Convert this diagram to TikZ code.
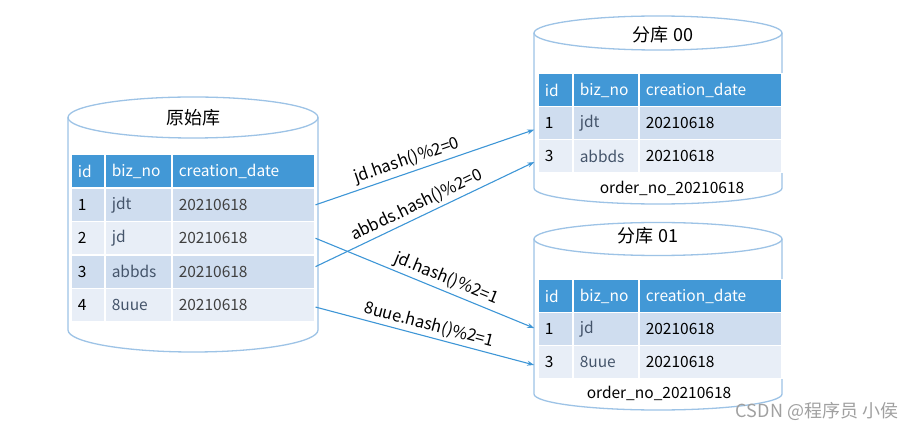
\documentclass[tikz,border=0pt]{standalone}
\usepackage{fontspec}
\setmainfont{Noto Sans CJK SC}
\usetikzlibrary{arrows.meta}
\definecolor{hdr}{RGB}{66,152,214}
\definecolor{rowA}{RGB}{207,221,239}
\definecolor{rowB}{RGB}{232,238,247}
\definecolor{cylc}{RGB}{157,195,230}
\definecolor{arr}{RGB}{62,150,214}
\definecolor{biz}{RGB}{68,84,106}
\definecolor{dat}{RGB}{64,64,64}
\definecolor{wmc}{RGB}{160,160,160}
\begin{document}
\begin{tikzpicture}[x=1pt,y=-1pt,
  cylline/.style={draw=cylc, line width=1.3pt, fill=white},
  tcell/.style={rectangle, draw=white, line width=1.5pt, anchor=north west, inner xsep=7pt, inner ysep=0pt, align=left, font=\fontsize{15.5}{18}\selectfont},
  hcell/.style={tcell, fill=hdr, text=white},
  ca/.style={tcell, text width=20pt, text=black},
  cb/.style={tcell, text width=53pt, text=biz},
  cc/.style={tcell, text width=129pt, text=dat},
  ra/.style={tcell, text width=21pt, text=black},
  rb/.style={tcell, text width=52pt, text=biz},
  rc/.style={tcell, text width=129pt, text=black},
  lh/.style={minimum height=33.4pt},
  rh/.style={minimum height=33pt},
  title/.style={font=\fontsize{18}{21}\selectfont, text=black},
  small/.style={font=\fontsize{15.5}{18}\selectfont, text=black},
  conn/.style={draw=arr, line width=1.1pt, -{Stealth[length=7pt,width=5pt]}, shorten >=3pt},
  lbl/.style={sloped, above, font=\fontsize{16.5}{19}\selectfont, inner sep=3pt, text=black}
]
\useasboundingbox (0,0) rectangle (922,430);

% left cylinder
\draw[cylline] (68,117.5) -- (68,330) arc[start angle=180,end angle=360,x radius=125pt,y radius=22pt] -- (318,117.5);
\draw[cylline] (193,117.5) ellipse [x radius=125pt, y radius=20.5pt];
\node[title] (t0) at (193,118) {原始库};

% top right cylinder
\draw[cylline] (534,33) -- (534,188) arc[start angle=180,end angle=360,x radius=124pt,y radius=16pt] -- (782,33);
\draw[cylline] (658,33) ellipse [x radius=124pt, y radius=17pt];
\node[title] (t1) at (663,35) {分库 00};
\node[small] (o1) at (672,188) {order\_no\_20210618};

% bottom right cylinder
\draw[cylline] (534,239) -- (534,394) arc[start angle=180,end angle=360,x radius=124pt,y radius=16pt] -- (782,239);
\draw[cylline] (658,239) ellipse [x radius=124pt, y radius=16.5pt];
\node[title] (t2) at (648,236) {分库 01};
\node[small] (o2) at (659,393) {order\_no\_20210618};

% left table
\node[hcell, lh, text width=20pt] (L0a) at (70,154) {id};
\node[hcell, lh, text width=53pt] (L0b) at (104,154) {biz\_no};
\node[hcell, lh, text width=129pt] (L0c) at (171,154) {creation\_date};
\node[ca, lh, fill=rowA] (L1a) at (70,187.4) {1};
\node[cb, lh, fill=rowA] (L1b) at (104,187.4) {jdt};
\node[cc, lh, fill=rowA] (L1c) at (171,187.4) {20210618};
\node[ca, lh, fill=rowB] (L2a) at (70,220.8) {2};
\node[cb, lh, fill=rowB] (L2b) at (104,220.8) {jd};
\node[cc, lh, fill=rowB] (L2c) at (171,220.8) {20210618};
\node[ca, lh, fill=rowA] (L3a) at (70,254.2) {3};
\node[cb, lh, fill=rowA] (L3b) at (104,254.2) {abbds};
\node[cc, lh, fill=rowA] (L3c) at (171,254.2) {20210618};
\node[ca, lh, fill=rowB] (L4a) at (70,287.6) {4};
\node[cb, lh, fill=rowB] (L4b) at (104,287.6) {8uue};
\node[cc, lh, fill=rowB] (L4c) at (171,287.6) {20210618};

% top right table
\node[hcell, rh, text width=21pt] (R0a) at (537,73) {id};
\node[hcell, rh, text width=52pt] (R0b) at (572,73) {biz\_no};
\node[hcell, rh, text width=129pt] (R0c) at (638,73) {creation\_date};
\node[ra, rh, fill=rowA] (R1a) at (537,106) {1};
\node[rb, rh, fill=rowA] (R1b) at (572,106) {jdt};
\node[rc, rh, fill=rowA] (R1c) at (638,106) {20210618};
\node[ra, rh, fill=rowB] (R2a) at (537,139) {3};
\node[rb, rh, fill=rowB] (R2b) at (572,139) {abbds};
\node[rc, rh, fill=rowB] (R2c) at (638,139) {20210618};

% bottom right table
\node[hcell, rh, text width=21pt] (S0a) at (537,279) {id};
\node[hcell, rh, text width=52pt] (S0b) at (572,279) {biz\_no};
\node[hcell, rh, text width=129pt] (S0c) at (638,279) {creation\_date};
\node[ra, rh, fill=rowA] (S1a) at (537,312) {1};
\node[rb, rh, fill=rowA] (S1b) at (572,312) {jd};
\node[rc, rh, fill=rowA] (S1c) at (638,312) {20210618};
\node[ra, rh, fill=rowB] (S2a) at (537,345) {3};
\node[rb, rh, fill=rowB] (S2b) at (572,345) {8uue};
\node[rc, rh, fill=rowB] (S2c) at (638,345) {20210618};

% connectors
\draw[conn] (L1c.east) -- ([yshift=-5.5pt]R1a.west) node[lbl, pos=0.43] (l1) {jd.hash()\%2=0};
\draw[conn] ([yshift=5pt]L3c.east) -- ([yshift=-4.5pt]R2a.west) node[lbl, pos=0.48] (l2) {abbds.hash()\%2=0};
\draw[conn] (L2c.east) -- (S1a.west) node[lbl, pos=0.57] (l3) {jd.hash()\%2=1};
\draw[conn] ([yshift=-2pt]L4c.east) -- ([yshift=-3.5pt]S2a.west) node[lbl, pos=0.5] (l4) {8uue.hash()\%2=1};

% watermark
\node[font=\fontsize{18}{21}\selectfont, text=wmc] (wm) at (817,411) {CSDN @程序员 小侯};
\end{tikzpicture}
\end{document}
